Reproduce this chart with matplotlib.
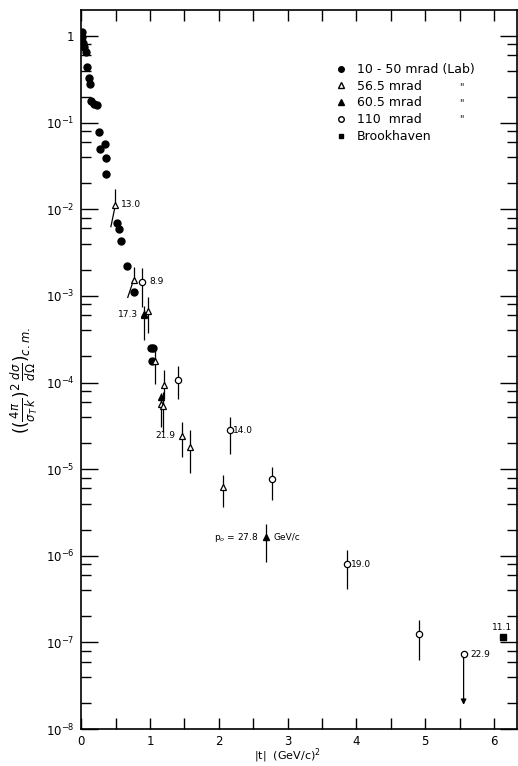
import numpy as np
import matplotlib.pyplot as plt
from matplotlib.lines import Line2D
from matplotlib.patches import FancyArrowPatch
from matplotlib.ticker import FixedLocator, FuncFormatter, NullFormatter

# 10 - 50 mrad (Lab), filled circles
t_lab = [0.003, 0.012, 0.03, 0.04, 0.064, 0.083, 0.116, 0.125, 0.139, 0.187, 0.226,
         0.257, 0.274, 0.339, 0.357, 0.356, 0.512, 0.545, 0.583, 0.67, 0.764,
         1.012, 1.04, 1.022]
v_lab = [1.11, 0.98, 0.84, 0.75, 0.66, 0.44, 0.33, 0.28, 0.176, 0.164, 0.158,
         0.078, 0.050, 0.057, 0.039, 0.0253, 0.0069, 0.0059, 0.0043, 0.0022, 0.0011,
         2.48e-4, 2.48e-4, 1.75e-4]

# 56.5 mrad, open triangles (value, lower end, upper end)
t_565 = [0.496, 0.759, 0.909, 0.966, 1.066, 1.20, 1.155, 1.19, 1.459, 1.579, 2.061]
v_565 = [0.0113, 0.00152, 6.05e-4, 6.7e-4, 1.75e-4, 9.4e-5, 5.6e-5, 5.4e-5, 2.43e-5, 1.81e-5, 6.2e-6]
lo_565 = [0.0113, 0.00152, 3.1e-4, 3.7e-4, 9.6e-5, 6.5e-5, 3.1e-5, 2.7e-5, 1.39e-5, 9.1e-6, 3.7e-6]
hi_565 = [0.017, 0.00217, 7.6e-4, 9.8e-4, 2.5e-4, 1.39e-4, 7.5e-5, 7.8e-5, 3.5e-5, 2.8e-5, 8.5e-6]
# slanted lower bars of the first two triangles
slant_t = [0.43, 0.675]
slant_v = [0.0063, 9.6e-4]

# 60.5 mrad, filled triangles
t_605 = [0.917, 1.163, 2.689]
v_605 = [6.1e-4, 6.8e-5, 1.63e-6]
lo_605 = [6.1e-4, 6.8e-5, 8.5e-7]
hi_605 = [6.1e-4, 6.8e-5, 2.3e-6]

# 110 mrad, open circles
t_110 = [0.886, 1.41, 2.155, 2.777, 3.869, 4.909, 5.558]
v_110 = [0.00146, 1.07e-4, 2.82e-5, 7.6e-6, 8.0e-7, 1.24e-7, 7.3e-8]
lo_110 = [7.5e-4, 6.5e-5, 1.49e-5, 4.4e-6, 4.1e-7, 6.2e-8, 7.3e-8]
hi_110 = [2.1e-3, 1.56e-4, 4.0e-5, 1.05e-5, 1.16e-6, 1.8e-7, 7.3e-8]
# upper limit arrow for the last point
limit_t = 5.558
limit_v = 1.9e-8

# Brookhaven
t_bnl = [6.128]
v_bnl = [1.14e-7]

x_major = [0, 1, 2, 3, 4, 5, 6]
x_minor = [0.5, 1.5, 2.5, 3.5, 4.5, 5.5]
y_exp = [-8, -7, -6, -5, -4, -3, -2, -1, 0]

# beam momenta written next to points: text, t, value, dx, dy (pixels), ha
notes = [('13.0', 0.496, 0.0113, 6, 0, 'left'),
         ('8.9', 0.886, 0.00146, 7, 0, 'left'),
         ('17.3', 0.909, 6.05e-4, -6, 0, 'right'),
         ('21.9', 1.459, 2.43e-5, -6, 0, 'right'),
         ('14.0', 2.155, 2.82e-5, 3, 0, 'left'),
         ('19.0', 3.869, 8.0e-7, 4, 0, 'left'),
         ('22.9', 5.558, 7.3e-8, 7, 0, 'left'),
         ('11.1', 6.128, 1.14e-7, -1, 10, 'center'),
         (r'p$_o$ = 27.8', 2.689, 1.63e-6, -8, 0, 'right'),
         ('GeV/c', 2.689, 1.63e-6, 7, 0, 'left')]


def err(v, lo, hi):
    v = np.array(v)
    return [v - np.array(lo), np.array(hi) - v]


fig = plt.figure(figsize=(5.18, 7.66), dpi=100)
ax = fig.add_axes([0.157, 0.0483, 0.8405, 0.9387])

ebkw = dict(ecolor='black', elinewidth=0.9, capsize=0, linestyle='none')
ax.plot(t_lab, v_lab, 'o', color='black', ms=5)
ax.errorbar(t_565, v_565, yerr=err(v_565, lo_565, hi_565), fmt='^', mfc='white',
            mec='black', mew=0.9, ms=4.5, **ebkw)
for i in range(len(slant_t)):
    ax.plot([t_565[i], slant_t[i]], [v_565[i], slant_v[i]], color='black', lw=0.9)
ax.errorbar(t_605, v_605, yerr=err(v_605, lo_605, hi_605), fmt='^', color='black',
            ms=4.5, **ebkw)
ax.errorbar(t_110, v_110, yerr=err(v_110, lo_110, hi_110), fmt='o', mfc='white',
            mec='black', mew=0.9, ms=4.5, **ebkw)
ax.add_patch(FancyArrowPatch((limit_t, v_110[-1]), (limit_t, limit_v),
                             arrowstyle='-|>', color='black', lw=0.9,
                             mutation_scale=8, shrinkA=2, shrinkB=0))
ax.plot(t_bnl, v_bnl, 's', color='black', ms=4)

for txt, t, v, dx, dy, ha in notes:
    ax.annotate(txt, (t, v), xytext=(dx, dy), textcoords='offset pixels',
                ha=ha, va='center', fontsize=6.5)

ax.set_yscale('log')
ax.set_xlim(0, 6.33)
ax.set_ylim(1e-8, 2)

y_major = [10.0 ** e for e in y_exp]
y_minor = [m * 10.0 ** e for e in y_exp for m in (2, 4, 6, 8) if m * 10.0 ** e < 2]
ax.xaxis.set_major_locator(FixedLocator(x_major))
ax.xaxis.set_minor_locator(FixedLocator(x_minor))
ax.yaxis.set_major_locator(FixedLocator(y_major))
ax.yaxis.set_minor_locator(FixedLocator(y_minor))
ax.yaxis.set_minor_formatter(NullFormatter())
ax.yaxis.set_major_formatter(FuncFormatter(
    lambda y, p: '1' if abs(np.log10(y)) < 0.01 else r'$10^{%d}$' % round(np.log10(y))))

ax.tick_params(axis='both', which='both', direction='in', top=True, right=True,
               labelsize=8.5, width=1.0)
ax.tick_params(axis='x', which='both', length=8, pad=4)
ax.tick_params(axis='y', which='major', length=12, pad=5)
ax.tick_params(axis='y', which='minor', length=7.5)
for s in ax.spines.values():
    s.set_linewidth(1.2)

ax.set_xlabel(r'|t|  (GeV/c)$^2$', fontsize=8)
ax.xaxis.set_label_coords(0.473, -0.024)
ax.set_ylabel(r'$((\frac{4\pi}{\sigma_T\,k})^2\,\frac{d\sigma}{d\Omega})_{c.m.}$',
              fontsize=12)
ax.yaxis.set_label_coords(-0.095, 0.484)

handles = [Line2D([], [], marker='o', color='black', ls='none', ms=4),
           Line2D([], [], marker='^', mfc='white', mec='black', ls='none', ms=4),
           Line2D([], [], marker='^', color='black', ls='none', ms=4),
           Line2D([], [], marker='o', mfc='white', mec='black', ls='none', ms=4),
           Line2D([], [], marker='s', color='black', ls='none', ms=3.5)]
names = ['10 - 50 mrad (Lab)', '56.5 mrad', '60.5 mrad', '110  mrad', 'Brookhaven']
leg = ax.legend(handles, names, loc='upper left', bbox_to_anchor=(0.57, 0.935),
                frameon=False, fontsize=9, handlelength=0.8, handletextpad=0.9,
                labelspacing=0.3, borderpad=0)
for yy in [0.893, 0.870, 0.848]:
    ax.text(0.872, yy, '"', transform=ax.transAxes, fontsize=7, ha='center', va='center')

fig.savefig('out.png', dpi=100)
